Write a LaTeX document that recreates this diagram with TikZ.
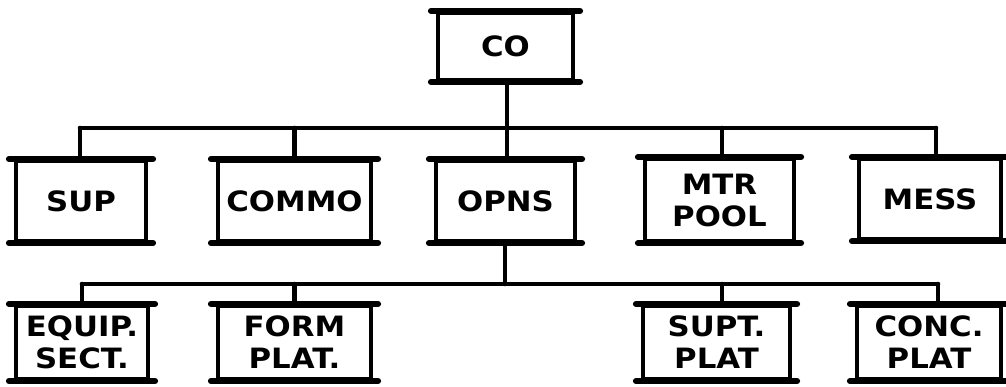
\documentclass[tikz,border=0pt]{standalone}
\usepackage{fontspec}
\newfontfamily\handfont[FakeStretch=1.1]{DejaVu Sans}
\tikzset{
  unit/.style={draw, line width=4.2pt, inner sep=0pt, align=center,
    font=\handfont\bfseries\fontsize{28}{32}\selectfont},
  edge/.style={line width=4.6pt, line cap=round},
  rule/.style={line width=6pt, line cap=round},
}
\begin{document}
\begin{tikzpicture}[x=1pt,y=-1pt]
\useasboundingbox (0,0) rectangle (1006,386);
% top
\node[unit, minimum width=135pt, minimum height=67pt] (CO) at (505.5,46.5) {CO};
% second row
\node[unit, minimum width=130pt, minimum height=80pt] (SUP) at (81,201) {SUP};
\node[unit, minimum width=153pt, minimum height=80pt] (COMMO) at (294.5,201) {COMMO};
\node[unit, minimum width=139pt, minimum height=80pt] (OPNS) at (505.5,201) {OPNS};
\node[unit, minimum width=149pt, minimum height=82pt] (MTR) at (719.5,200) {MTR\\POOL};
\node[unit, minimum width=142pt, minimum height=80pt] (MESS) at (930,199) {MESS};
% third row
\node[unit, minimum width=132pt, minimum height=73pt] (EQUIP) at (82,342.5) {EQUIP.\\SECT.};
\node[unit, minimum width=153pt, minimum height=73pt] (FORM) at (294.5,342.5) {FORM\\PLAT.};
\node[unit, minimum width=147pt, minimum height=73pt] (SUPT) at (716.5,342.5) {SUPT.\\PLAT};
\node[unit, minimum width=144pt, minimum height=73pt] (CONC) at (929,342.5) {CONC.\\PLAT};
% heavy top/bottom rules with corner serifs
\foreach \n in {CO,SUP,COMMO,OPNS,MTR,MESS,EQUIP,FORM,SUPT,CONC}{
  \draw[rule] ([xshift=-5pt]\n.north west) -- ([xshift=5pt]\n.north east);
  \draw[rule] ([xshift=-5pt]\n.south west) -- ([xshift=5pt]\n.south east);
}
% first bus
\coordinate (busA) at (80,128);
\coordinate (busB) at (936,128);
\draw[edge] (busA) -- (busB);
\draw[edge] ([xshift=1.5pt]CO.south) -- ([xshift=1.5pt]CO.south |- busA);
\draw[edge] ([xshift=-1pt]SUP.north) -- ([xshift=-1pt]SUP.north |- busA);
\draw[edge] (COMMO.north) -- (COMMO.north |- busA);
\draw[edge] ([xshift=1.5pt]OPNS.north) -- ([xshift=1.5pt]OPNS.north |- busA);
\draw[edge] ([xshift=2.5pt]MTR.north) -- ([xshift=2.5pt]MTR.north |- busA);
\draw[edge] ([xshift=6pt]MESS.north) -- ([xshift=6pt]MESS.north |- busA);
% second bus
\coordinate (busC) at (82,284);
\coordinate (busD) at (938,284);
\draw[edge] (busC) -- (busD);
\draw[edge] ([xshift=-0.5pt]OPNS.south) -- ([xshift=-0.5pt]OPNS.south |- busC);
\draw[edge] (EQUIP.north) -- (EQUIP.north |- busC);
\draw[edge] (FORM.north) -- (FORM.north |- busC);
\draw[edge] ([xshift=5.5pt]SUPT.north) -- ([xshift=5.5pt]SUPT.north |- busC);
\draw[edge] ([xshift=9pt]CONC.north) -- ([xshift=9pt]CONC.north |- busC);
\end{tikzpicture}
\end{document}
